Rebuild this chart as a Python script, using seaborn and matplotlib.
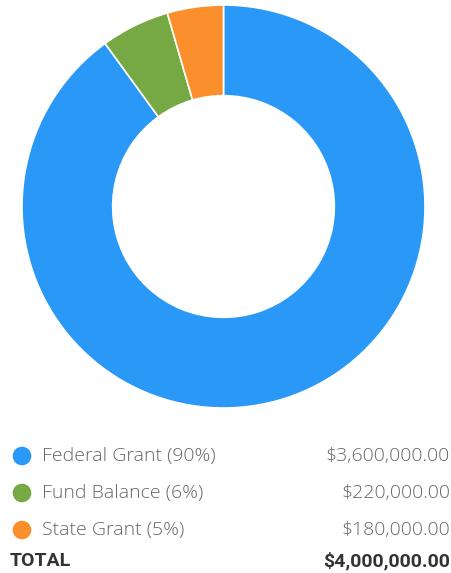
import matplotlib.pyplot as plt
import seaborn as sns

sources = ['Federal Grant', 'Fund Balance', 'State Grant']
amounts = [3600000, 220000, 180000]
pct_labels = ['90%', '6%', '5%']
colors = ['#2A98F7', '#76A844', '#FA8F2B']
total_label = 'TOTAL'

sns.set_theme(style='white')
plt.rcParams['font.family'] = ['Open Sans', 'DejaVu Sans']

W, H = 452, 573
fig = plt.figure(figsize=(W / 100, H / 100), dpi=100)

# donut
cx, cy, r = 223.5, 206.5, 201.5
ax = fig.add_axes([(cx - r) / W, (H - cy - r) / H, 2 * r / W, 2 * r / H])
ax.pie(amounts, colors=colors, startangle=90, counterclock=False,
       wedgeprops=dict(width=0.45, edgecolor='white', linewidth=1.2))
ax.set_xlim(-1, 1)
ax.set_ylim(-1, 1)
ax.set_aspect('equal')
ax.axis('off')

# legend / table below, in pixel coords
lax = fig.add_axes([0, 0, 1, 1])
lax.set_xlim(0, W)
lax.set_ylim(H, 0)
lax.axis('off')

row_y = [456, 493, 530]
lax.scatter([22] * len(sources), row_y, s=180, c=colors, edgecolors='none')
for y, name, p, amt in zip(row_y, sources, pct_labels, amounts):
    lax.text(42, y, f'{name} ({p})', ha='left', va='center',
             fontsize=14, color='#666666', fontweight='light')
    lax.text(450, y, f'${amt:,.2f}', ha='right', va='center',
             fontsize=14, color='#666666', fontweight='light')

lax.text(10, 561, total_label, ha='left', va='center', fontsize=14,
         color='#333333', fontweight='bold', family=['Roboto', 'DejaVu Sans'])
lax.text(450, 561, f'${sum(amounts):,.2f}', ha='right', va='center', fontsize=14,
         color='#333333', fontweight='bold', family=['Roboto', 'DejaVu Sans'])

fig.savefig('out.png', dpi=100)
